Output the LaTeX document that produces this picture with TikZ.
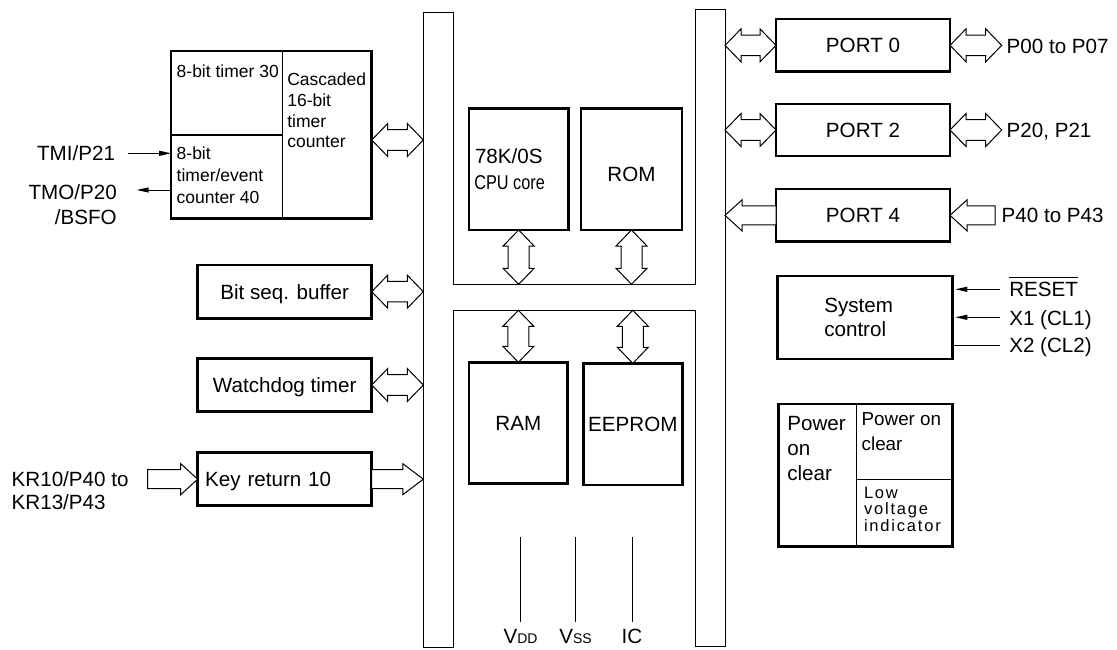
\documentclass[tikz,border=0pt]{standalone}
\usepackage{fontspec}
\setmainfont{Liberation Sans}
\usepackage{graphicx}
\usetikzlibrary{calc,arrows.meta}

\newcommand\setfs[2]{\fontsize{#1}{#2}\selectfont}
\newcommand\ovl[1]{\setbox0\hbox{#1}\rlap{\raisebox{\dimexpr\ht0+4pt\relax}{\rule{\wd0}{1pt}}}\box0}

% hollow horizontal double arrow, #1 left end, #2 right end
\newcommand\dblH[2]{%
  \draw[hollow] let \p1=#1, \p2=#2 in
    (\x1,\y1) -- (\x1+16,\y1+16.5) -- (\x1+16,\y1+10.3) -- (\x2-16,\y1+10.3)
    -- (\x2-16,\y1+16.5) -- (\x2,\y1) -- (\x2-16,\y1-16.5) -- (\x2-16,\y1-10.3)
    -- (\x1+16,\y1-10.3) -- (\x1+16,\y1-16.5) -- cycle;}
% hollow vertical double arrow, #1 upper end, #2 lower end
\newcommand\dblV[2]{%
  \draw[hollow] let \p1=#1, \p2=#2 in
    (\x1,\y1) -- (\x1+15.5,\y1-16) -- (\x1+10.5,\y1-16) -- (\x1+10.5,\y2+16)
    -- (\x1+15.5,\y2+16) -- (\x1,\y2) -- (\x1-15.5,\y2+16) -- (\x1-10.5,\y2+16)
    -- (\x1-10.5,\y1-16) -- (\x1-15.5,\y1-16) -- cycle;}
% hollow single arrows: [head length]{tail}{tip}
\newcommand\sarR[3][17]{%
  \draw[hollow] let \p1=#2, \p2=#3 in
    (\x1,\y1+9.5) -- (\x2-#1,\y1+9.5) -- (\x2-#1,\y1+15.5) -- (\x2,\y1)
    -- (\x2-#1,\y1-15.5) -- (\x2-#1,\y1-9.5) -- (\x1,\y1-9.5) -- cycle;}
\newcommand\sarL[3][17]{%
  \draw[hollow] let \p1=#2, \p2=#3 in
    (\x1,\y1+9.5) -- (\x2+#1,\y1+9.5) -- (\x2+#1,\y1+15.5) -- (\x2,\y1)
    -- (\x2+#1,\y1-15.5) -- (\x2+#1,\y1-9.5) -- (\x1,\y1-9.5) -- cycle;}

\begin{document}
\begin{tikzpicture}[x=1pt,y=-1pt,
  every node/.style={inner sep=0pt,outer sep=0pt,font=\setfs{20.6}{25}},
  blk/.style={draw,line width=2.6pt,anchor=north west},
  one/.style={text height=14.8pt,text depth=0pt},
  hollow/.style={draw,line width=1pt,fill=white,line join=miter},
  bus/.style={draw,line width=1pt},
  divider/.style={line width=1.2pt},
  sig/.style={line width=1pt},
  sigtip/.style={-{Triangle[length=12pt,width=5pt]}},
]
\useasboundingbox (0,0) rectangle (1117,649);

% internal bus
\draw[bus] (423.3,12.3) -- (453.3,12.3) -- (453.3,284.3) -- (695,284.3) -- (695,9)
  -- (725,9) -- (725,646.7) -- (695,646.7) -- (695,310.3) -- (453.3,310.3)
  -- (453.3,647.7) -- (423.3,647.7) -- cycle;
\coordinate (bl) at (423.3,0);
\coordinate (br) at (725,0);
\coordinate (ctop) at (0,284.3);
\coordinate (cbot) at (0,310.3);

% timer block
\node[blk,minimum width=200.7,minimum height=167.3] (tb) at (171,51) {};
\coordinate (tbv) at (282.7,0);
\draw[divider] (tb.north -| tbv) -- (tb.south -| tbv);
\draw[divider] (tb.west |- 0,135) -- (tbv |- 0,135);
\node[anchor=north west,font=\setfs{17.5}{20.6}] (t30) at (176.7,65) {8-bit timer 30};
\node[anchor=north west,align=left,font=\setfs{17.5}{20.6}] (casc) at (287.3,73.3) {Cascaded\\16-bit\\timer\\counter};
\node[anchor=north west,align=left,font=\setfs{17.5}{22}] (t40) at (176.7,146.7) {8-bit\\timer/event\\counter 40};
\node[anchor=base east] (tmi) at (115,160.7) {TMI/P21};
\node[anchor=north east,align=right] (tmo) at (116.7,185) {TMO/P20\\/BSFO};
\coordinate (tmiS) at (127.7,153.3);
\coordinate (tmoE) at (136.7,190);
\draw[sig,sigtip] (tmiS) -- (tmiS -| tb.west);
\draw[sig,sigtip] (tmoE -| tb.west) -- (tmoE);
\dblH{(tb.east |- 0,140)}{(bl |- 0,140)}

% left peripherals
\node[blk,one,minimum width=174,minimum height=53.3] (bsb) at (197.7,265) {Bit seq. buffer};
\node[blk,one,minimum width=174,minimum height=53.4] (wdt) at (197.7,358.3) {Watchdog timer};
\node[blk,one,minimum width=174,minimum height=53,text width=159,align=left] (kr) at (197.7,452.7) {Key return 10};
\dblH{(bsb.east)}{(bl |- bsb.east)}
\dblH{(wdt.east)}{(bl |- wdt.east)}
\node[anchor=north west,align=left,font=\setfs{20.6}{23.3}] (krl) at (11.7,471.7) {KR10/P40 to\\KR13/P43};
\coordinate (krin) at (147.7,0);
\sarR{(krin |- kr.west)}{(kr.west)}
\sarR[20.5]{(kr.east)}{(bl |- kr.east)}

% core and memories
\node[blk,minimum width=99.3,minimum height=121.7] (cpu) at (469,108.3) {};
\node[anchor=base west] (cpua) at (475,163.3) {78K/0S};
\node[anchor=base west,font=\setfs{20}{24}] (cpub) at (474.3,189.3) {\scalebox{0.815}[1]{CPU core}};
\node[blk,one,minimum width=101,minimum height=121.7] (rom) at (581,108.3) {\raisebox{-5pt}{ROM}};
\node[blk,one,minimum width=98.7,minimum height=121] (ram) at (469,362.3) {RAM};
\node[blk,one,minimum width=99,minimum height=121.7] (eep) at (583.3,363.3) {EEPROM};
\dblV{(cpu.south)}{(cpu.south |- ctop)}
\dblV{(rom.south)}{(rom.south |- ctop)}
\dblV{(ram.north |- cbot)}{(ram.north)}
\dblV{(eep.north |- cbot)}{(eep.north)}

% supply pins
\coordinate (rt) at (0,537.3);
\node[anchor=base] (vdd) at (520.5,643.3) {V{\setfs{14}{14}DD}};
\node[anchor=base] (vss) at (575.5,643.3) {V{\setfs{14}{14}SS}};
\node[anchor=base] (ic) at (632,643.3) {IC};
\draw[sig] (vdd.north |- rt) -- ([yshift=6.7pt]vdd.north);
\draw[sig] (vss.north |- rt) -- ([yshift=6.7pt]vss.north);
\draw[sig] (ic.north |- rt) -- ([yshift=6.7pt]ic.north);

% ports
\node[blk,one,minimum width=174,minimum height=52.7] (p0) at (776,19) {PORT 0};
\node[blk,one,minimum width=174,minimum height=52] (p2) at (776,104) {PORT 2};
\node[blk,one,minimum width=174,minimum height=52.7] (p4) at (776,189) {PORT 4};
\dblH{(br |- p0.west)}{(p0.west)}
\dblH{(br |- p2.west)}{(p2.west)}
\sarL{(p4.west)}{(br |- p4.west)}
\coordinate (pout) at (1001.7,0);
\coordinate (pin) at (995,0);
\dblH{(p0.east)}{(pout |- p0.east)}
\dblH{(p2.east)}{(pout |- p2.east)}
\sarL{(pin |- p4.east)}{(p4.east)}
\node[anchor=base west] (l0) at (1006.7,53.3) {P00 to P07};
\node[anchor=base west] (l2) at (1006.7,137.3) {P20, P21};
\node[anchor=base west] (l4) at (1001.7,222.7) {P40 to P43};

% system control
\node[blk,minimum width=174.6,minimum height=83,text width=81.4,align=left,font=\setfs{20.6}{24.4}] (sc) at (777.7,276) {System\\control};
\coordinate (rstS) at (1000,289.3);
\coordinate (x1S) at (1000,317.3);
\coordinate (x2S) at (1000,345);
\draw[sig,sigtip,shorten >=3pt] (rstS) -- (rstS -| sc.east);
\draw[sig,sigtip,shorten >=3pt] (x1S) -- (x1S -| sc.east);
\draw[sig] (x2S) -- (x2S -| sc.east);
\node[anchor=base west] (rst) at (1009.3,296) {\ovl{RESET}};
\node[anchor=base west] (x1) at (1009.3,325) {X1 (CL1)};
\node[anchor=base west] (x2) at (1009.3,352.7) {X2 (CL2)};

% power on clear
\node[blk,minimum width=174,minimum height=142.7] (poc) at (778.3,404) {};
\coordinate (pv) at (856.7,0);
\draw[divider] (poc.north -| pv) -- (poc.south -| pv);
\draw[divider] (pv |- 0,479.3) -- (poc.east |- 0,479.3);
\node[anchor=north west,align=left,font=\setfs{20.6}{25}] (pocA) at (787.3,416.7) {Power\\on\\clear};
\node[anchor=north west,align=left,font=\setfs{18.8}{25}] (pocB) at (861.7,412.7) {Power on\\clear};
\node[anchor=north west,align=left,font=\setfs{16.5}{16.2}\addfontfeature{LetterSpace=11}] (lvi) at (864,487.3) {Low\\voltage\\indicator};
\end{tikzpicture}
\end{document}
